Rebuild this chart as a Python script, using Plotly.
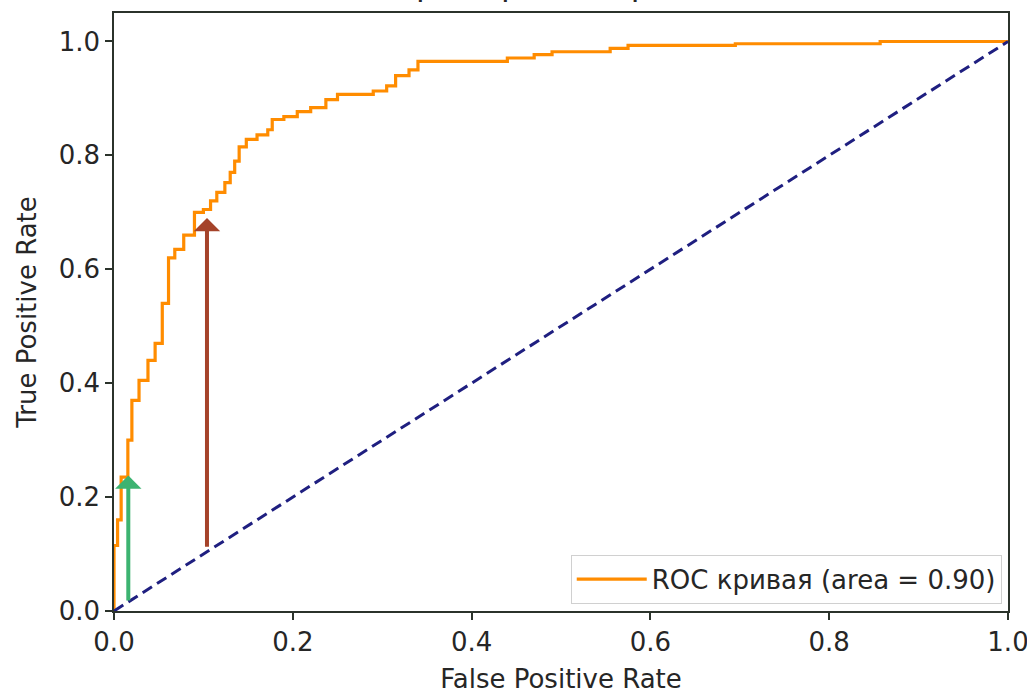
import plotly.graph_objects as go

# ROC curve vertices (false positive rate, true positive rate)
fpr = [0.0, 0.0, 0.004, 0.004, 0.008, 0.008, 0.0155, 0.0155, 0.02, 0.02, 0.028, 0.028,
       0.038, 0.038, 0.046, 0.046, 0.054, 0.054, 0.061, 0.061, 0.068, 0.068, 0.078, 0.078,
       0.09, 0.09, 0.10, 0.10, 0.108, 0.108, 0.115, 0.115, 0.124, 0.124, 0.13, 0.13,
       0.135, 0.135, 0.14, 0.14, 0.148, 0.148, 0.16, 0.16, 0.172, 0.172, 0.177, 0.177,
       0.19, 0.19, 0.205, 0.205, 0.22, 0.22, 0.237, 0.237, 0.25, 0.25, 0.29, 0.29,
       0.305, 0.305, 0.315, 0.315, 0.33, 0.33, 0.34, 0.34, 0.44, 0.44, 0.47, 0.47,
       0.49, 0.49, 0.555, 0.555, 0.575, 0.575, 0.695, 0.695, 0.857, 0.857, 1.0]
tpr = [0.0, 0.115, 0.115, 0.16, 0.16, 0.235, 0.235, 0.30, 0.30, 0.37, 0.37, 0.405,
       0.405, 0.44, 0.44, 0.47, 0.47, 0.54, 0.54, 0.62, 0.62, 0.635, 0.635, 0.66,
       0.66, 0.70, 0.70, 0.705, 0.705, 0.72, 0.72, 0.735, 0.735, 0.752, 0.752, 0.77,
       0.77, 0.79, 0.79, 0.815, 0.815, 0.828, 0.828, 0.836, 0.836, 0.845, 0.845, 0.863,
       0.863, 0.868, 0.868, 0.877, 0.877, 0.884, 0.884, 0.898, 0.898, 0.907, 0.907, 0.913,
       0.913, 0.922, 0.922, 0.94, 0.94, 0.95, 0.95, 0.965, 0.965, 0.971, 0.971, 0.977,
       0.977, 0.982, 0.982, 0.988, 0.988, 0.993, 0.993, 0.996, 0.996, 1.0, 1.0]

diag_x = [0.0, 1.0]
diag_y = [0.0, 1.0]

# arrows: x, y_start, y_end, colour
arrow_x = [0.016, 0.104]
arrow_y0 = [0.016, 0.11]
arrow_y1 = [0.238, 0.69]
arrow_colors = ["#3cb371", "#a5432a"]

tick_vals = [0.0, 0.2, 0.4, 0.6, 0.8, 1.0]
tick_text = ["0.0", "0.2", "0.4", "0.6", "0.8", "1.0"]

title_text = "Пример ROC кривой"
legend_label = "ROC кривая (area = 0.90)"

FONT = "DejaVu Sans"
AX = "#2b332b"
TXT = "#262626"

fig = go.Figure()
fig.add_trace(go.Scatter(x=fpr, y=tpr, mode="lines", name=legend_label,
                         line=dict(color="#ff8c00", width=3.2)))
fig.add_trace(go.Scatter(x=diag_x, y=diag_y, mode="lines", showlegend=False,
                         line=dict(color="#1f1f80", width=3, dash="11px,6px")))

for xa, y0, y1, c in zip(arrow_x, arrow_y0, arrow_y1, arrow_colors):
    fig.add_annotation(x=xa, y=y1, ax=xa, ay=y0, xref="x", yref="y", axref="x", ayref="y",
                       text="", showarrow=True, arrowhead=1, arrowsize=1.1,
                       arrowwidth=4, arrowcolor=c, standoff=0, startstandoff=0)

# title sits mostly above the visible page, as in the reference
fig.add_annotation(text=title_text, xref="paper", yref="paper", x=0.5, y=1.013,
                   xanchor="center", yanchor="bottom", showarrow=False,
                   font=dict(family=FONT, size=32, color=TXT))

axis_common = dict(showline=True, linecolor=AX, linewidth=1.5, mirror=True,
                   ticks="outside", ticklen=7, tickwidth=1.5, tickcolor=AX,
                   showgrid=False, zeroline=False, ticklabeloverflow="allow",
                   tickfont=dict(family=FONT, size=26, color=TXT),
                   tickvals=tick_vals, ticktext=tick_text)

fig.update_xaxes(range=[0, 1], title=dict(text="False Positive Rate", standoff=18,
                 font=dict(family=FONT, size=26, color=TXT)), **axis_common)
fig.update_yaxes(range=[0, 1.05], title=dict(text="True Positive Rate",
                 font=dict(family=FONT, size=26, color=TXT)), **axis_common)

fig.update_layout(
    width=1027, height=694,
    margin=dict(l=114, r=19, t=13, b=83, autoexpand=False),
    plot_bgcolor="white", paper_bgcolor="white",
    font=dict(family=FONT, size=26, color=TXT),
    legend=dict(x=0.993, y=0.012, xanchor="right", yanchor="bottom",
                bgcolor="white", bordercolor="#d0d0d0", borderwidth=1,
                font=dict(family=FONT, size=26, color=TXT), itemwidth=70),
)

fig.write_html("out.html")
